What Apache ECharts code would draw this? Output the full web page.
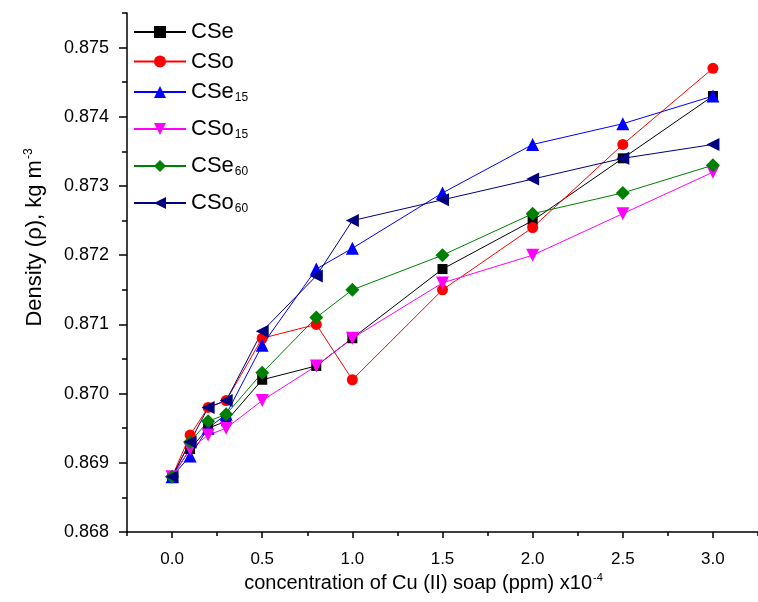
<!DOCTYPE html>
<html>
<head>
<meta charset="utf-8">
<script src="https://cdn.jsdelivr.net/npm/echarts@6/dist/echarts.min.js"></script>
<style>
  html, body { margin: 0; padding: 0; background: #fff; }
  #main { width: 758px; height: 602px; }
</style>
</head>
<body>
<div id="main"></div>
<script>
// concentration of Cu (II) soap, ppm x10^-4
var conc = [0, 0.1, 0.2, 0.3, 0.5, 0.8, 1.0, 1.5, 2.0, 2.5, 3.0];

// density values
var cse   = [0.8688, 0.8692, 0.8695, 0.8696, 0.8702, 0.8704, 0.8708, 0.8718, 0.8725, 0.8734, 0.8743];
var cso   = [0.8688, 0.8694, 0.8698, 0.8699, 0.8708, 0.8710, 0.8702, 0.8715, 0.8724, 0.8736, 0.8747];
var cse15 = [0.8688, 0.8691, 0.8695, 0.8697, 0.8707, 0.8718, 0.8721, 0.8729, 0.8736, 0.8739, 0.8743];
var cso15 = [0.8688, 0.8692, 0.8694, 0.8695, 0.8699, 0.8704, 0.8708, 0.8716, 0.8720, 0.8726, 0.8732];
var cse60 = [0.8688, 0.8693, 0.8696, 0.8697, 0.8703, 0.8711, 0.8715, 0.8720, 0.8726, 0.8729, 0.8733];
var cso60 = [0.8688, 0.8693, 0.8698, 0.8699, 0.8709, 0.8717, 0.8725, 0.8728, 0.8731, 0.8734, 0.8736];

// ticks
var xMajor = [0, 0.5, 1.0, 1.5, 2.0, 2.5, 3.0];
var xMinor = [-0.25, 0.25, 0.75, 1.25, 1.75, 2.25, 2.75, 3.25];
var yMajor = [0.868, 0.869, 0.870, 0.871, 0.872, 0.873, 0.874, 0.875];
var yMinor = [0.8685, 0.8695, 0.8705, 0.8715, 0.8725, 0.8735, 0.8745, 0.8755];

var FONT = '"Liberation Sans", Arial, sans-serif';

function pairs(ys) {
  return conc.map(function (x, i) { return [x, ys[i]]; });
}

function makeSeries(name, ys, color, symbol, size, rotate) {
  return {
    name: name,
    type: 'line',
    data: pairs(ys),
    symbol: symbol,
    symbolSize: size,
    symbolRotate: rotate || 0,
    lineStyle: { color: color, width: 1 },
    itemStyle: { color: color },
    z: 3
  };
}

var chart = echarts.init(document.getElementById('main'));

var legendText = {
  fontFamily: FONT,
  color: '#000',
  rich: {
    n: { fontFamily: FONT, fontSize: 22, color: '#000', lineHeight: 22 },
    s: { fontFamily: FONT, fontSize: 12, color: '#000', lineHeight: 12, padding: [12, 0, 0, 1] }
  }
};
function legendFmt(name) {
  var m = name.match(/^(CS[eo])(\d*)$/);
  return m[2] ? '{n|' + m[1] + '}{s|' + m[2] + '}' : '{n|' + m[1] + '}';
}

chart.setOption({
  animation: false,
  backgroundColor: '#fff',
  textStyle: { fontFamily: FONT },
  grid: { left: 127, top: 13, width: 637, bottom: 70 },
  legend: [
    {
      data: ['CSe', 'CSo', 'CSe15'],
      orient: 'vertical',
      left: 133, top: 21, padding: 0,
      itemWidth: 52, itemHeight: 15, itemGap: 7.5,
      formatter: legendFmt,
      textStyle: legendText
    },
    {
      data: ['CSo15', 'CSe60', 'CSo60'],
      orient: 'vertical',
      left: 133, top: 117, padding: 0,
      itemWidth: 52, itemHeight: 15, itemGap: 13,
      formatter: legendFmt,
      textStyle: legendText
    }
  ],
  xAxis: [
    {
      type: 'value', min: -0.25, max: 3.25,
      name: '{t|concentration of Cu (II) soap (ppm) x10}{p|-4}',
      nameLocation: 'middle', nameGap: 31,
      nameTextStyle: {
        padding: [0, 38, 0, 0],
        rich: {
          t: { fontFamily: FONT, fontSize: 20, color: '#000', lineHeight: 22 },
          p: { fontFamily: FONT, fontSize: 11, color: '#000', lineHeight: 11, padding: [0, 0, 11, 1] }
        }
      },
      axisLine: { onZero: false, lineStyle: { color: '#000', width: 1.5 } },
      axisTick: { customValues: xMajor, length: 6, lineStyle: { color: '#000', width: 1.5 } },
      axisLabel: {
        customValues: xMajor, margin: 19, color: '#000', fontSize: 17, fontFamily: FONT,
        formatter: function (v) { return v.toFixed(1); }
      },
      splitLine: { show: false }
    },
    {
      type: 'value', min: -0.25, max: 3.25, position: 'bottom',
      axisLine: { show: false, onZero: false },
      axisTick: { customValues: xMinor, length: 4, lineStyle: { color: '#000', width: 1.5 } },
      axisLabel: { show: false },
      splitLine: { show: false }
    }
  ],
  yAxis: [
    {
      type: 'value', min: 0.868, max: 0.8755,
      name: '{t|Density (ρ), kg m}{p|-3}',
      nameLocation: 'middle', nameGap: 80, nameRotate: 90,
      nameTextStyle: {
        padding: [0, 0, 0, 70],
        rich: {
          t: { fontFamily: FONT, fontSize: 22, color: '#000', lineHeight: 24 },
          p: { fontFamily: FONT, fontSize: 12, color: '#000', lineHeight: 12, padding: [0, 0, 12, 1] }
        }
      },
      axisLine: { show: true, onZero: false, lineStyle: { color: '#000', width: 1.5 } },
      axisTick: { customValues: yMajor, length: 8, lineStyle: { color: '#000', width: 1.5 } },
      axisLabel: {
        customValues: yMajor, margin: 18, color: '#000', fontSize: 18, fontFamily: FONT,
        formatter: function (v) { return v.toFixed(3); }
      },
      splitLine: { show: false }
    },
    {
      type: 'value', min: 0.868, max: 0.8755, position: 'left',
      axisLine: { show: false, onZero: false },
      axisTick: { customValues: yMinor, length: 5, lineStyle: { color: '#000', width: 1.5 } },
      axisLabel: { show: false },
      splitLine: { show: false }
    }
  ],
  series: [
    makeSeries('CSe', cse, '#000000', 'rect', 10),
    makeSeries('CSo', cso, '#ff0000', 'circle', 11),
    makeSeries('CSe15', cse15, '#0000ff', 'triangle', 13),
    makeSeries('CSo15', cso15, '#ff00ff', 'triangle', 13, 180),
    makeSeries('CSe60', cse60, '#008000', 'diamond', 14),
    makeSeries('CSo60', cso60, '#000080', 'triangle', 13, 90)
  ]
});
</script>
</body>
</html>
